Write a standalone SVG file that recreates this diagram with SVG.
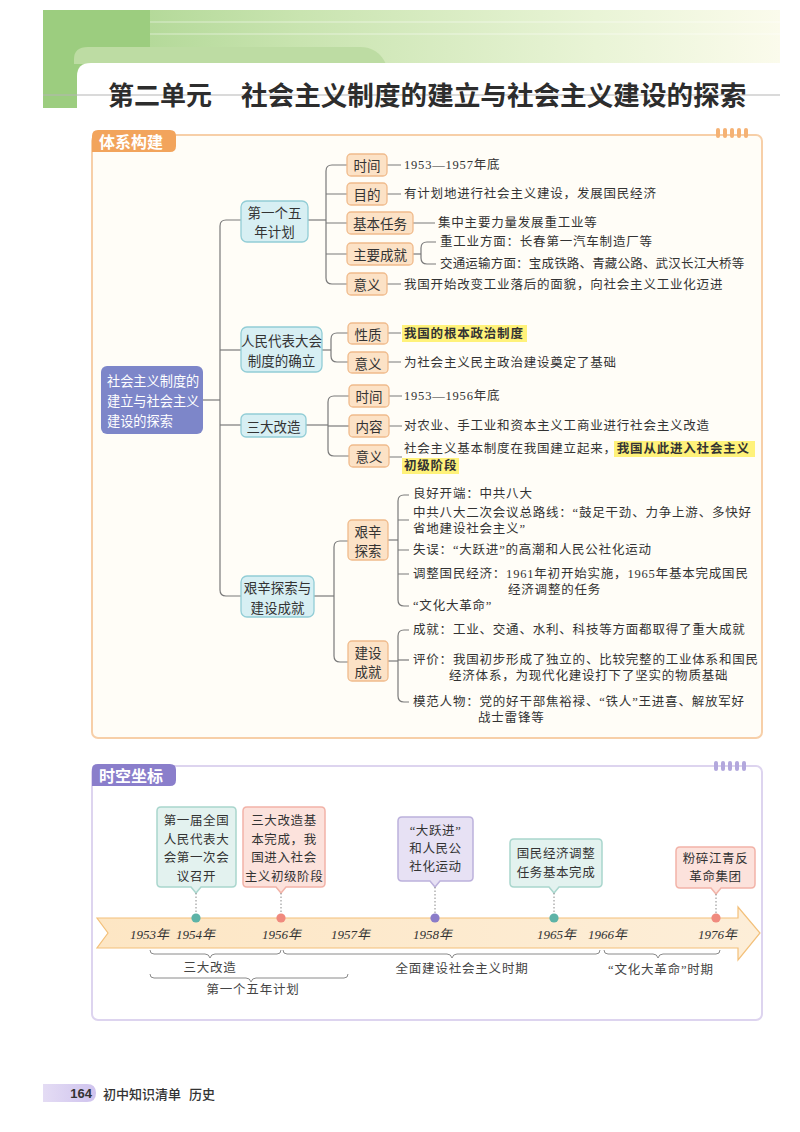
<svg xmlns="http://www.w3.org/2000/svg" width="800" height="1132" viewBox="0 0 800 1132">
<style>
.n1{fill:#d7eff3;stroke:#92cdd6;stroke-width:1.3}
.n2{fill:#fce2c6;stroke:#f0bb8c;stroke-width:1.3}
.nt{font-family:"Noto Sans CJK SC",sans-serif;font-size:13.5px;fill:#333;text-anchor:middle;dominant-baseline:central}
.t{font-family:"Liberation Serif","Noto Sans CJK SC",serif;font-size:12.5px;fill:#333;letter-spacing:0.8px;dominant-baseline:central}
.c{fill:none;stroke:#7a7a7a;stroke-width:1.2}
.hl{fill:#fff27a}
.ct{font-family:"Liberation Serif","Noto Sans CJK SC",serif;font-size:12.5px;fill:#333;letter-spacing:0.6px;text-anchor:middle;dominant-baseline:central}
.yr{font-family:"Liberation Serif","Noto Sans CJK SC",serif;font-size:13px;font-style:italic;fill:#333;dominant-baseline:central}
.br{fill:none;stroke:#8a8a8a;stroke-width:1}
.bl{font-family:"Liberation Serif","Noto Sans CJK SC",serif;font-size:12.5px;fill:#444;letter-spacing:0.8px;text-anchor:middle;dominant-baseline:central}
.dot{fill:none;stroke:#888;stroke-width:1;stroke-dasharray:1.5 2}
.lab{font-family:"Noto Sans CJK SC",sans-serif;font-size:16px;font-weight:700;fill:#fff;dominant-baseline:central}
</style>
<defs>
<linearGradient id="hg" x1="0" y1="0" x2="1" y2="0">
<stop offset="0" stop-color="#a6d28a"/>
<stop offset="0.35" stop-color="#c9e4b0"/>
<stop offset="0.75" stop-color="#e9f4d6"/>
<stop offset="1" stop-color="#fbfbec"/>
</linearGradient>
<linearGradient id="ag" x1="0" y1="0" x2="1" y2="0">
<stop offset="0" stop-color="#fde6c4"/>
<stop offset="1" stop-color="#fdeed8"/>
</linearGradient>
<linearGradient id="fg" x1="0" y1="0" x2="1" y2="0">
<stop offset="0" stop-color="#e4dcf4"/>
<stop offset="1" stop-color="#cfc3ee"/>
</linearGradient>
</defs>
<rect width="800" height="1132" fill="#fff"/>

<g id="header">
<rect x="43" y="10" width="737" height="54" fill="url(#hg)"/>
<g stroke="#fff" stroke-opacity="0.25" stroke-width="2">
<line x1="150" y1="22" x2="780" y2="22"/>
<line x1="150" y1="34" x2="780" y2="34"/>
</g>
<rect x="43" y="10" width="107" height="98" fill="#9ccd7f"/>
<path d="M74,64 V59 Q74,47 88,47 H360 Q378,47 386,64 Z" fill="#bddca3"/>
<path d="M77,108 V76 Q77,63 91,63 H780 V108 Z" fill="#fff"/>
<line x1="43" y1="95" x2="780" y2="95" stroke="#b5b5b5" stroke-width="1"/>
<text x="108" y="93" font-family="Noto Sans CJK SC, sans-serif" font-size="26" font-weight="700" fill="#2d2d2d" dominant-baseline="central">第二单元</text>
<text x="241" y="93" font-family="Noto Sans CJK SC, sans-serif" font-size="26.6" font-weight="700" fill="#2d2d2d" dominant-baseline="central">社会主义制度的建立与社会主义建设的探索</text>
</g>

<g id="frame-tixi">
<rect x="92" y="135" width="670" height="603" rx="6" fill="#fffdf7" stroke="#f7cfa8" stroke-width="2"/>
<g fill="#f5b274">
<rect x="716" y="128" width="4" height="10" rx="2"/><rect x="723" y="128" width="4" height="10" rx="2"/><rect x="730" y="128" width="4" height="10" rx="2"/><rect x="737" y="128" width="4" height="10" rx="2"/><rect x="744" y="128" width="4" height="10" rx="2"/>
</g>
<path d="M92,152 V136 Q92,130 98,130 H170 Q176,130 176,136 V146 Q176,152 170,152 Z" fill="#f2a45c"/>
<text class="lab" x="99" y="141">体系构建</text>
</g>

<g id="connectors">
<path class="c" d="M203,400 H220"/>
<path class="c" d="M241,220 H226 Q220,220 220,226 V590 Q220,596 226,596 H241"/>
<path class="c" d="M220,350 H241"/>
<path class="c" d="M220,425 H241"/>
<path class="c" d="M308,220 H326"/>
<path class="c" d="M347,165 H332 Q326,165 326,171 V278 Q326,284 332,284 H347"/>
<path class="c" d="M326,194 H347 M326,223 H347 M326,254 H347"/>
<path class="c" d="M387,165 H401 M387,194 H401 M413,223 H435 M387,284 H401"/>
<path class="c" d="M413,254 H421"/>
<path class="c" d="M436,242 H427 Q421,242 421,248 V258 Q421,264 427,264 H436"/>
<path class="c" d="M322,350 H331"/>
<path class="c" d="M348,333 H337 Q331,333 331,339 V356 Q331,362 337,362 H348"/>
<path class="c" d="M388,333 H401 M388,362 H401"/>
<path class="c" d="M306,425 H328"/>
<path class="c" d="M349,396 H334 Q328,396 328,402 V450 Q328,456 334,456 H349"/>
<path class="c" d="M328,426 H349"/>
<path class="c" d="M389,396 H402 M389,426 H402 M389,457 H402"/>
<path class="c" d="M314,596 H334"/>
<path class="c" d="M348,541 H340 Q334,541 334,547 V656 Q334,662 340,662 H348"/>
<path class="c" d="M388,540 H398"/>
<path class="c" d="M409,495 H404 Q398,495 398,501 V600 Q398,606 404,606 H409"/>
<path class="c" d="M398,520 H409 M398,550 H409 M398,574 H409"/>
<path class="c" d="M388,661 H398"/>
<path class="c" d="M409,630 H404 Q398,630 398,636 V696 Q398,702 404,702 H409"/>
<path class="c" d="M398,660 H409"/>
</g>

<g id="root">
<rect x="101" y="366" width="102" height="68" rx="6" fill="#7d86c9"/>
<g font-family="Noto Sans CJK SC, sans-serif" font-size="13.2" fill="#fff" dominant-baseline="central">
<text x="107" y="380">社会主义制度的</text>
<text x="107" y="400">建立与社会主义</text>
<text x="107" y="420">建设的探索</text>
</g>
</g>

<g id="n-wunian">
<rect class="n1" x="241" y="201" width="67" height="41" rx="6"/>
<text class="nt" x="274.5" y="211.5">第一个五</text>
<text class="nt" x="274.5" y="231">年计划</text>
</g>
<g id="n-renda">
<rect class="n1" x="241" y="327" width="81" height="45" rx="6"/>
<text class="nt" x="281.5" y="340" font-size="12.8">人民代表大会</text>
<text class="nt" x="281.5" y="359.5" font-size="12.8">制度的确立</text>
</g>
<g id="n-sanda">
<rect class="n1" x="241" y="414" width="65" height="23" rx="5"/>
<text class="nt" x="273.5" y="425.5">三大改造</text>
</g>
<g id="n-jianxin">
<rect class="n1" x="241" y="576" width="73" height="41" rx="6"/>
<text class="nt" x="277.5" y="587">艰辛探索与</text>
<text class="nt" x="277.5" y="606.5">建设成就</text>
</g>

<g id="n-wn-time"><rect class="n2" x="347" y="154" width="40" height="22" rx="4"/><text class="nt" x="367" y="165">时间</text></g>
<g id="n-wn-goal"><rect class="n2" x="347" y="183" width="40" height="22" rx="4"/><text class="nt" x="367" y="194">目的</text></g>
<g id="n-wn-task"><rect class="n2" x="347" y="212" width="66" height="22" rx="4"/><text class="nt" x="380" y="223">基本任务</text></g>
<g id="n-wn-ach"><rect class="n2" x="347" y="243" width="66" height="22" rx="4"/><text class="nt" x="380" y="254">主要成就</text></g>
<g id="n-wn-sig"><rect class="n2" x="347" y="273" width="40" height="22" rx="4"/><text class="nt" x="367" y="284">意义</text></g>

<g id="n-rd-nat"><rect class="n2" x="348" y="323" width="40" height="21" rx="4"/><text class="nt" x="368" y="333.5">性质</text></g>
<g id="n-rd-sig"><rect class="n2" x="348" y="352" width="40" height="21" rx="4"/><text class="nt" x="368" y="362.5">意义</text></g>

<g id="n-sd-time"><rect class="n2" x="349" y="385" width="40" height="22" rx="4"/><text class="nt" x="369" y="396">时间</text></g>
<g id="n-sd-cont"><rect class="n2" x="349" y="415" width="40" height="22" rx="4"/><text class="nt" x="369" y="426">内容</text></g>
<g id="n-sd-sig"><rect class="n2" x="349" y="445" width="40" height="22" rx="4"/><text class="nt" x="369" y="456">意义</text></g>

<g id="n-js-exp"><rect class="n2" x="348" y="520" width="40" height="40" rx="4"/><text class="nt" x="368" y="530.5" font-size="13">艰辛</text><text class="nt" x="368" y="550" font-size="13">探索</text></g>
<g id="n-js-ach"><rect class="n2" x="348" y="641" width="40" height="40" rx="4"/><text class="nt" x="368" y="651.5" font-size="13">建设</text><text class="nt" x="368" y="671" font-size="13">成就</text></g>

<g id="texts">
<text class="t" x="404" y="165">1953—1957年底</text>
<text class="t" x="404" y="194">有计划地进行社会主义建设，发展国民经济</text>
<text class="t" x="438" y="223">集中主要力量发展重工业等</text>
<text class="t" x="440" y="242">重工业方面：长春第一汽车制造厂等</text>
<text class="t" x="440" y="264" textLength="305" lengthAdjust="spacing">交通运输方面：宝成铁路、青藏公路、武汉长江大桥等</text>
<text class="t" x="404" y="285">我国开始改变工业落后的面貌，向社会主义工业化迈进</text>
<rect class="hl" x="402" y="325" width="125" height="17"/>
<text class="t" x="404" y="333.5" font-weight="700">我国的根本政治制度</text>
<text class="t" x="404" y="363">为社会主义民主政治建设奠定了基础</text>
<text class="t" x="404" y="396">1953—1956年底</text>
<text class="t" x="404" y="426">对农业、手工业和资本主义工商业进行社会主义改造</text>
<rect class="hl" x="614" y="441" width="141" height="16"/>
<rect class="hl" x="402" y="458" width="57" height="16"/>
<text class="t" x="404" y="449">社会主义基本制度在我国建立起来，<tspan font-weight="700">我国从此进入社会主义</tspan></text>
<text class="t" x="404" y="466" font-weight="700">初级阶段</text>
<text class="t" x="413" y="494">良好开端：中共八大</text>
<text class="t" x="413" y="513">中共八大二次会议总路线：“鼓足干劲、力争上游、多快好</text>
<text class="t" x="413" y="529">省地建设社会主义”</text>
<text class="t" x="413" y="550">失误：“大跃进”的高潮和人民公社化运动</text>
<text class="t" x="413" y="574">调整国民经济：1961年初开始实施，1965年基本完成国民</text>
<text class="t" x="508" y="590">经济调整的任务</text>
<text class="t" x="413" y="606">“文化大革命”</text>
<text class="t" x="413" y="630">成就：工业、交通、水利、科技等方面都取得了重大成就</text>
<text class="t" x="413" y="660">评价：我国初步形成了独立的、比较完整的工业体系和国民</text>
<text class="t" x="449" y="676">经济体系，为现代化建设打下了坚实的物质基础</text>
<text class="t" x="413" y="702">模范人物：党的好干部焦裕禄、“铁人”王进喜、解放军好</text>
<text class="t" x="478" y="718">战士雷锋等</text>
</g>

<g id="frame-shikong">
<rect x="92" y="766" width="670" height="254" rx="6" fill="#fff" stroke="#ddd4ef" stroke-width="2"/>
<g fill="#b3a8dd">
<rect x="714" y="761" width="4" height="10" rx="2"/><rect x="721" y="761" width="4" height="10" rx="2"/><rect x="728" y="761" width="4" height="10" rx="2"/><rect x="735" y="761" width="4" height="10" rx="2"/><rect x="742" y="761" width="4" height="10" rx="2"/>
</g>
<path d="M92,786 V769 Q92,764 98,764 H170 Q176,764 176,770 V780 Q176,786 170,786 Z" fill="#8a7ecb"/>
<text class="lab" x="99" y="775">时空坐标</text>
</g>

<g id="timeline-arrow">
<path d="M97,918 H738 V907 L760,933 L738,960 V948 H97 L108,933 Z" fill="url(#ag)" stroke="#f3c07a" stroke-width="1.2"/>
</g>

<g id="years">
<text class="yr" x="130" y="934">1953年</text>
<text class="yr" x="176" y="934">1954年</text>
<text class="yr" x="262" y="934">1956年</text>
<text class="yr" x="331" y="934">1957年</text>
<text class="yr" x="413" y="934">1958年</text>
<text class="yr" x="537" y="934">1965年</text>
<text class="yr" x="588" y="934">1966年</text>
<text class="yr" x="698" y="934">1976年</text>
</g>

<g id="ev-1954">
<path d="M161,807 H232 Q236,807 236,811 V883 Q236,887 232,887 H201 L196,893 L191,887 H161 Q157,887 157,883 V811 Q157,807 161,807 Z" fill="#e3f2ef" stroke="#a9d6cd" stroke-width="1.5"/>
<text class="ct" x="196.5" y="821">第一届全国</text>
<text class="ct" x="196.5" y="839.5">人民代表大</text>
<text class="ct" x="196.5" y="858">会第一次会</text>
<text class="ct" x="196.5" y="876.5">议召开</text>
<path class="dot" d="M196,893 V913"/>
<circle cx="196" cy="918" r="4.6" fill="#5db3a7"/>
</g>
<g id="ev-1956">
<path d="M247,807 H321 Q325,807 325,811 V883 Q325,887 321,887 H286 L281,893 L276,887 H247 Q243,887 243,883 V811 Q243,807 247,807 Z" fill="#fce2dc" stroke="#f2b3a8" stroke-width="1.5"/>
<text class="ct" x="284" y="821">三大改造基</text>
<text class="ct" x="284" y="839.5">本完成，我</text>
<text class="ct" x="284" y="858">国进入社会</text>
<text class="ct" x="284" y="876.5">主义初级阶段</text>
<path class="dot" d="M281,893 V913"/>
<circle cx="281" cy="918" r="4.6" fill="#f08a7e"/>
</g>
<g id="ev-1958">
<path d="M402,817 H469 Q473,817 473,821 V877 Q473,881 469,881 H440 L435,887 L430,881 H402 Q398,881 398,877 V821 Q398,817 402,817 Z" fill="#e7e1f4" stroke="#bcb1dc" stroke-width="1.5"/>
<text class="ct" x="435.5" y="831">“大跃进”</text>
<text class="ct" x="435.5" y="849">和人民公</text>
<text class="ct" x="435.5" y="867">社化运动</text>
<path class="dot" d="M435,887 V913"/>
<circle cx="435" cy="918" r="4.6" fill="#8a7cc9"/>
</g>
<g id="ev-1965">
<path d="M514,839 H598 Q602,839 602,843 V883 Q602,887 598,887 H559 L554,893 L549,887 H514 Q510,887 510,883 V843 Q510,839 514,839 Z" fill="#e3f2ef" stroke="#a9d6cd" stroke-width="1.5"/>
<text class="ct" x="556" y="854">国民经济调整</text>
<text class="ct" x="556" y="873">任务基本完成</text>
<path class="dot" d="M554,893 V913"/>
<circle cx="554" cy="918" r="4.6" fill="#5db3a7"/>
</g>
<g id="ev-1976">
<path d="M680,847 H751 Q755,847 755,851 V884 Q755,888 751,888 H721 L716,894 L711,888 H680 Q676,888 676,884 V851 Q676,847 680,847 Z" fill="#fce2dc" stroke="#f2b3a8" stroke-width="1.5"/>
<text class="ct" x="715.5" y="859">粉碎江青反</text>
<text class="ct" x="715.5" y="877">革命集团</text>
<path class="dot" d="M716,894 V913"/>
<circle cx="716" cy="918" r="4.6" fill="#f08a7e"/>
</g>

<g id="periods">
<path class="br" d="M150,950 Q150,954 154,954 H205 Q209,954 210,958 Q211,954 215,954 H277 Q281,954 281,950"/>
<text class="bl" x="210" y="968">三大改造</text>
<path class="br" d="M283,950 Q283,954 287,954 H447 Q451,954 452,958 Q453,954 457,954 H596 Q600,954 600,950"/>
<text class="bl" x="462" y="969">全面建设社会主义时期</text>
<path class="br" d="M604,950 Q604,954 608,954 H653 Q657,954 658,958 Q659,954 663,954 H716 Q720,954 720,950"/>
<text class="bl" x="661" y="970">“文化大革命”时期</text>
<path class="br" d="M150,974 Q150,978 154,978 H246 Q250,978 251,982 Q252,978 256,978 H344 Q348,978 348,974"/>
<text class="bl" x="253" y="990">第一个五年计划</text>
</g>

<g id="footer">
<path d="M43,1084 H87 Q96,1084 96,1093 Q96,1102 87,1102 H43 Z" fill="url(#fg)"/>
<text x="92" y="1093" font-family="Liberation Sans, sans-serif" font-size="13" font-weight="700" fill="#333" text-anchor="end" dominant-baseline="central">164</text>
<text x="103" y="1093" font-family="Noto Sans CJK SC, sans-serif" font-size="13" font-weight="500" fill="#333" dominant-baseline="central">初中知识清单  <tspan x="189">历史</tspan></text>
</g>
</svg>
